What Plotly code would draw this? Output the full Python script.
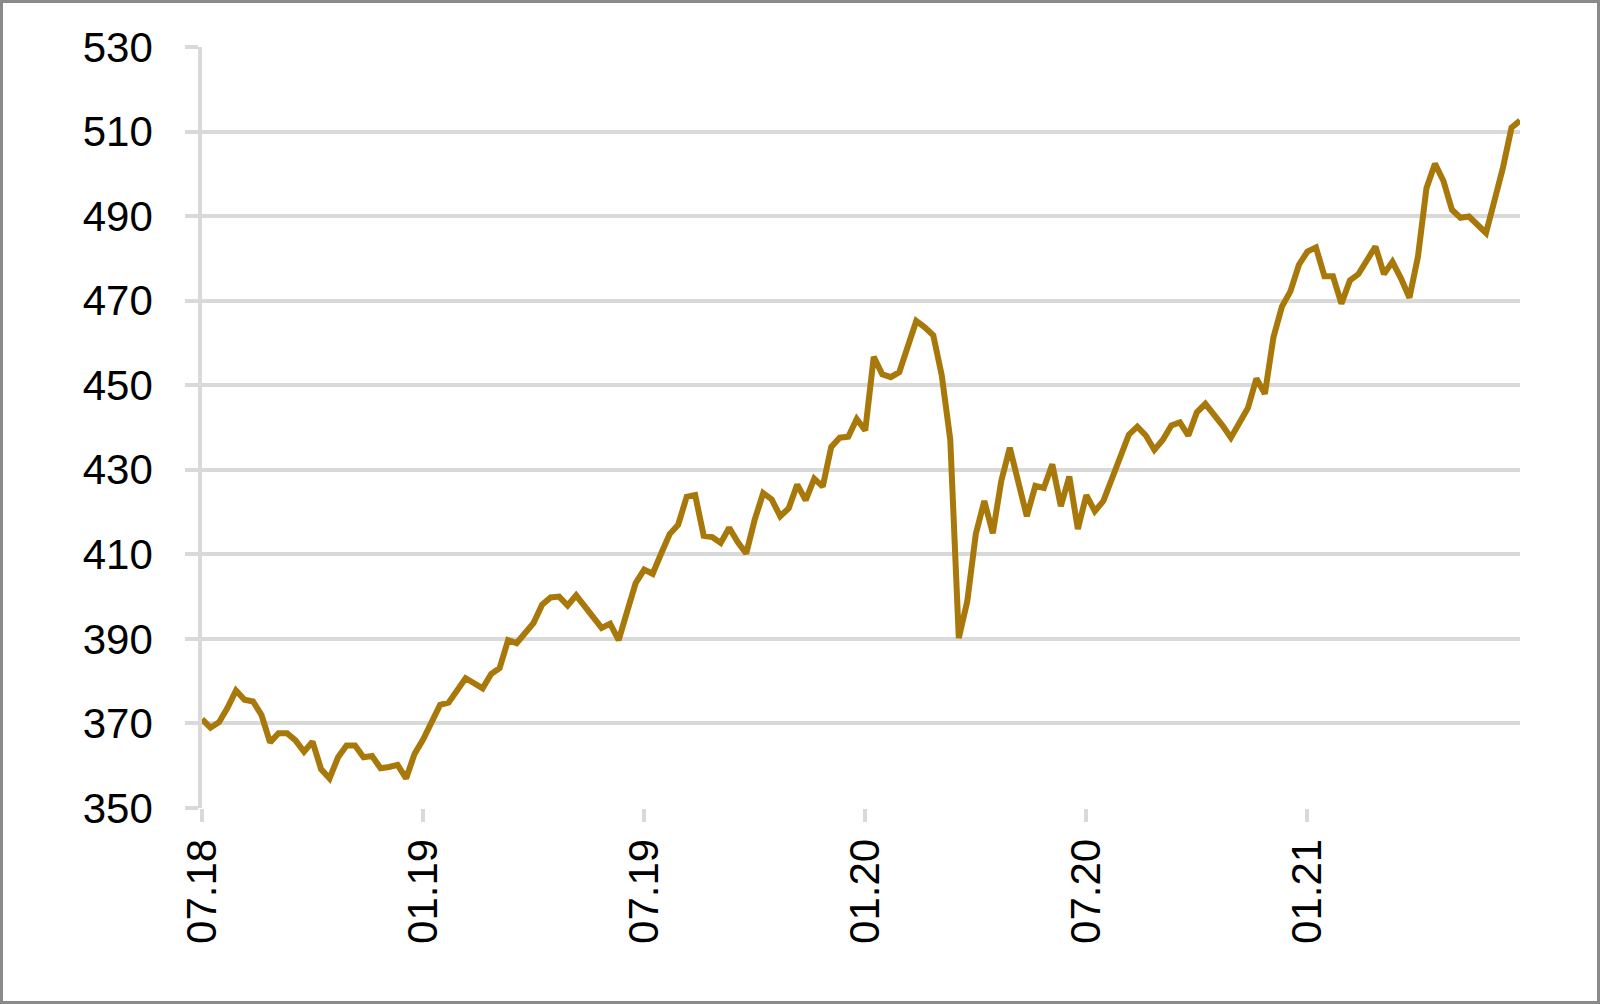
"""Weekly index line chart, Jul 2018 - Jun 2021."""

import pandas as pd
import plotly.graph_objects as go

# weekly readings (index level)
values = [
    371.0, 369.0, 370.3, 373.7, 377.8, 375.6, 375.2, 372.0, 365.5, 367.7,
    367.7, 366.0, 363.3, 365.7, 359.2, 357.0, 362.0, 364.8, 364.8, 362.0,
    362.3, 359.4, 359.7, 360.2, 357.0, 362.8, 366.2, 370.3, 374.4, 374.9,
    377.6, 380.7, 379.5, 378.3, 381.7, 383.1, 389.7, 389.0, 391.4, 393.8,
    398.1, 399.8, 400.0, 397.9, 400.3, 397.9, 395.5, 392.6, 393.6, 389.7,
    396.5, 403.2, 406.4, 405.4, 410.2, 414.8, 417.0, 423.6, 424.0, 414.4,
    414.1, 412.7, 416.3, 412.9, 410.2, 418.2, 424.5, 423.0, 419.0, 420.9,
    426.5, 422.8, 427.9, 426.0, 435.4, 437.6, 437.8, 442.0, 439.3, 456.7,
    452.6, 451.9, 453.1, 459.4, 465.2, 463.7, 461.8, 452.3, 437.1, 390.2,
    398.9, 414.8, 422.6, 415.0, 427.4, 435.2, 426.7, 419.0, 426.2, 425.7,
    431.3, 421.4, 428.4, 416.0, 424.0, 420.2, 422.6, 427.7, 433.2, 438.3,
    440.2, 438.1, 434.7, 437.1, 440.5, 441.2, 438.1, 443.6, 445.6, 443.2,
    440.5, 437.6, 441.2, 444.6, 451.6, 448.0, 461.3, 468.6, 472.2, 478.5,
    481.6, 482.6, 475.8, 475.8, 469.3, 474.8, 476.3, 479.7, 482.8, 476.3,
    479.2, 475.3, 470.7, 480.4, 496.6, 502.4, 498.3, 491.5, 489.6, 489.9,
    487.9, 486.0, 493.7, 501.5, 510.9, 512.6,
]
dates = pd.date_range("2018-07-06", periods=len(values), freq="7D")

tick_labels = ["07.18", "01.19", "07.19", "01.20", "07.20", "01.21"]
tick_dates = [dates[i * 26] for i in range(len(tick_labels))]
y_ticks = [350, 370, 390, 410, 430, 450, 470, 490, 510, 530]

LINE = "#A8790A"
GRID = "#D9D9D9"
FRAME = "#8A8A8A"

W, H = 1600, 1004
M = dict(l=202, r=80, t=47, b=196)
pw = W - M["l"] - M["r"]
ph = H - M["t"] - M["b"]

fig = go.Figure(
    go.Scatter(
        x=dates,
        y=values,
        mode="lines",
        line=dict(color=LINE, width=6),
        hoverinfo="skip",
    )
)

fig.update_layout(
    width=W,
    height=H,
    margin=M,
    paper_bgcolor="white",
    plot_bgcolor="white",
    showlegend=False,
    font=dict(family="Liberation Sans, Arial, sans-serif", color="black", size=42),
    xaxis=dict(
        range=[dates[0], dates[-1]],
        tickvals=tick_dates,
        ticktext=tick_labels,
        tickangle=-90,
        ticks="outside",
        ticklen=13,
        tickwidth=3.5,
        tickcolor=GRID,
        showgrid=False,
        showline=False,
        zeroline=False,
        ticklabelstandoff=0,
    ),
    yaxis=dict(
        range=[350, 530],
        tickvals=y_ticks,
        ticks="outside",
        ticklen=13,
        tickwidth=3.5,
        tickcolor=GRID,
        showgrid=True,
        gridcolor=GRID,
        gridwidth=3.5,
        showline=True,
        linecolor=GRID,
        linewidth=3.5,
        zeroline=False,
        ticklabelstandoff=24,
    ),
    shapes=[
        dict(
            type="rect",
            xref="paper",
            yref="paper",
            x0=-(M["l"] - 1.5) / pw,
            x1=1 + (M["r"] - 1.5) / pw,
            y0=-(M["b"] - 1.5) / ph,
            y1=1 + (M["t"] - 1.5) / ph,
            line=dict(color=FRAME, width=3),
            layer="below",
        )
    ],
)

# drop the page's default body margin so the figure sits at the window corner
fig.write_html(
    "out.html",
    config={"displayModeBar": False},
    post_script="document.body.style.margin = '0';",
)
